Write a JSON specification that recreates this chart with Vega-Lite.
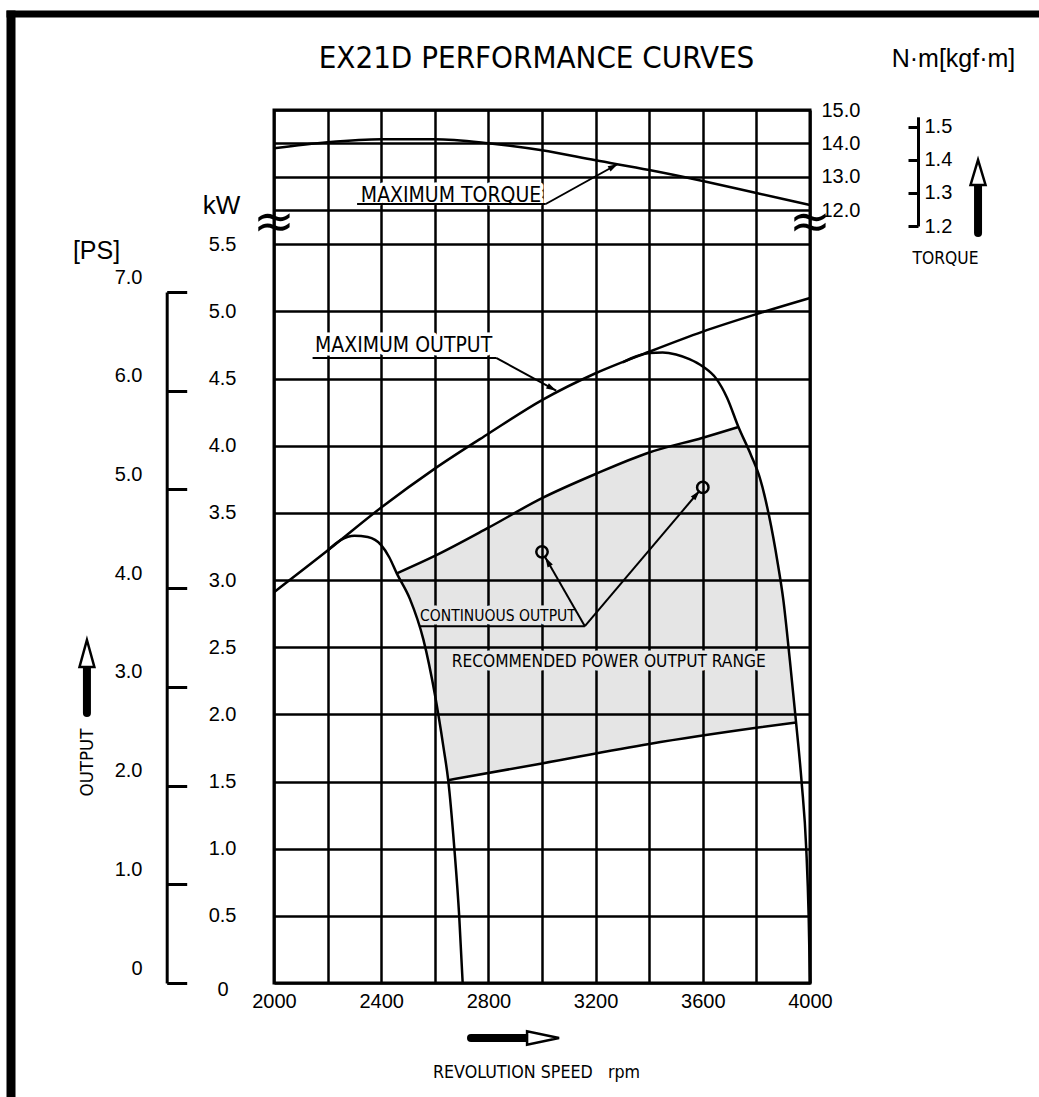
{
  "$schema": "https://vega.github.io/schema/vega-lite/v6.json",
  "width": 536,
  "height": 873,
  "autosize": "none",
  "padding": {"left": 274, "top": 110, "right": 229, "bottom": 114},
  "background": "white",
  "config": {
    "view": {"stroke": "black", "strokeWidth": 3},
    "axis": {
      "domainColor": "black", "tickColor": "black", "gridColor": "black", "gridOpacity": 1, "gridWidth": 2.5,
      "labelColor": "black", "titleColor": "black", "labelFont": "Liberation Sans", "labelFontSize": 20,
      "titleFont": "Liberation Sans", "titleFontWeight": "normal", "labelFlush": false, "labelOverlap": false,
      "labelBound": false, "domainWidth": 3, "tickWidth": 3
    }
  },
  "datasets": {
    "maxout": [
      {"rpm": 2000, "kw": 2.91}, {"rpm": 2200, "kw": 3.22}, {"rpm": 2400, "kw": 3.54}, {"rpm": 2600, "kw": 3.83},
      {"rpm": 2800, "kw": 4.09}, {"rpm": 3000, "kw": 4.34}, {"rpm": 3200, "kw": 4.54}, {"rpm": 3400, "kw": 4.70},
      {"rpm": 3600, "kw": 4.85}, {"rpm": 3800, "kw": 4.98}, {"rpm": 4000, "kw": 5.10}
    ],
    "smallbell": [
      {"rpm": 2200, "kw": 3.22}, {"rpm": 2250, "kw": 3.30}, {"rpm": 2300, "kw": 3.33}, {"rpm": 2350, "kw": 3.32},
      {"rpm": 2400, "kw": 3.26}, {"rpm": 2430, "kw": 3.17}, {"rpm": 2458, "kw": 3.05}, {"rpm": 2507, "kw": 2.86},
      {"rpm": 2557, "kw": 2.56}, {"rpm": 2601, "kw": 2.14}, {"rpm": 2632, "kw": 1.76}, {"rpm": 2650, "kw": 1.51},
      {"rpm": 2673, "kw": 1.0}, {"rpm": 2691, "kw": 0.5}, {"rpm": 2704, "kw": 0}
    ],
    "bigbell": [
      {"rpm": 3300, "kw": 4.62}, {"rpm": 3350, "kw": 4.665}, {"rpm": 3400, "kw": 4.69}, {"rpm": 3450, "kw": 4.695},
      {"rpm": 3500, "kw": 4.68}, {"rpm": 3550, "kw": 4.645}, {"rpm": 3600, "kw": 4.59}, {"rpm": 3650, "kw": 4.50},
      {"rpm": 3690, "kw": 4.36}, {"rpm": 3733, "kw": 4.14}, {"rpm": 3780, "kw": 3.93}, {"rpm": 3813, "kw": 3.76},
      {"rpm": 3847, "kw": 3.48}, {"rpm": 3880, "kw": 3.12}, {"rpm": 3900, "kw": 2.86}, {"rpm": 3925, "kw": 2.40},
      {"rpm": 3948, "kw": 1.94}, {"rpm": 3969, "kw": 1.49}, {"rpm": 3986, "kw": 1.0}, {"rpm": 3995, "kw": 0.5},
      {"rpm": 4000, "kw": 0}
    ],
    "upper": [
      {"rpm": 2458, "kw": 3.05}, {"rpm": 2600, "kw": 3.18}, {"rpm": 2800, "kw": 3.39}, {"rpm": 3000, "kw": 3.61},
      {"rpm": 3200, "kw": 3.79}, {"rpm": 3400, "kw": 3.95}, {"rpm": 3600, "kw": 4.06}, {"rpm": 3733, "kw": 4.14}
    ],
    "lower": [
      {"rpm": 2650, "kw": 1.51}, {"rpm": 3000, "kw": 1.635}, {"rpm": 3400, "kw": 1.78}, {"rpm": 3800, "kw": 1.90},
      {"rpm": 3948, "kw": 1.94}
    ],
    "region": [
      {"rpm": 2458, "kw": 3.05, "kwb": 3.05}, {"rpm": 2480, "kw": 3.07, "kwb": 2.965}, {"rpm": 2507, "kw": 3.09, "kwb": 2.86},
      {"rpm": 2530, "kw": 3.11, "kwb": 2.72}, {"rpm": 2557, "kw": 3.14, "kwb": 2.56}, {"rpm": 2580, "kw": 3.16, "kwb": 2.35},
      {"rpm": 2601, "kw": 3.18, "kwb": 2.14}, {"rpm": 2617, "kw": 3.20, "kwb": 1.95}, {"rpm": 2632, "kw": 3.21, "kwb": 1.76},
      {"rpm": 2650, "kw": 3.23, "kwb": 1.51}, {"rpm": 2800, "kw": 3.39, "kwb": 1.56}, {"rpm": 3000, "kw": 3.61, "kwb": 1.635},
      {"rpm": 3200, "kw": 3.79, "kwb": 1.71}, {"rpm": 3400, "kw": 3.95, "kwb": 1.78}, {"rpm": 3600, "kw": 4.06, "kwb": 1.84},
      {"rpm": 3733, "kw": 4.14, "kwb": 1.885}, {"rpm": 3760, "kw": 4.02, "kwb": 1.89}, {"rpm": 3780, "kw": 3.93, "kwb": 1.895},
      {"rpm": 3813, "kw": 3.76, "kwb": 1.90}, {"rpm": 3847, "kw": 3.48, "kwb": 1.91}, {"rpm": 3880, "kw": 3.12, "kwb": 1.92},
      {"rpm": 3900, "kw": 2.86, "kwb": 1.925}, {"rpm": 3925, "kw": 2.40, "kwb": 1.935}, {"rpm": 3948, "kw": 1.94, "kwb": 1.94}
    ],
    "leaders": [
      {"rpm": 2144, "kw": 4.654, "rpm2": 2829, "kw2": 4.654},
      {"rpm": 2829, "kw": 4.654, "rpm2": 3053, "kw2": 4.41},
      {"rpm": 2545, "kw": 2.657, "rpm2": 3160, "kw2": 2.657},
      {"rpm": 3160, "kw": 2.657, "rpm2": 3012, "kw2": 3.17},
      {"rpm": 3160, "kw": 2.657, "rpm2": 3588, "kw2": 3.665}
    ],
    "tips": [
      {"rpm": 3053, "kw": 4.41, "lead": "mo"},
      {"rpm": 3012, "kw": 3.17, "lead": "co1"},
      {"rpm": 3588, "kw": 3.665, "lead": "co2"}
    ],
    "circles": [{"rpm": 3000, "kw": 3.21}, {"rpm": 3600, "kw": 3.69}],
    "notes": [
      {"rpm": 2153, "kw": 4.70, "label": "MAXIMUM OUTPUT", "kind": "large"},
      {"rpm": 2545, "kw": 2.694, "label": "CONTINUOUS OUTPUT", "kind": "small"},
      {"rpm": 2663, "kw": 2.352, "label": "RECOMMENDED POWER OUTPUT RANGE", "kind": "medium"}
    ],
    "breaks": [{"rpm": 2000, "kw": 5.66}, {"rpm": 4000, "kw": 5.66}],
    "xarrow_shaft": [{"rpm": 2735, "kw": -0.41, "rpm2": 2955}],
    "xarrow_head": [{"rpm": 3004, "kw": -0.41}],
    "torque": [
      {"rpm": 2000, "nm": 13.85}, {"rpm": 2200, "nm": 14.03}, {"rpm": 2400, "nm": 14.12}, {"rpm": 2600, "nm": 14.12},
      {"rpm": 2800, "nm": 14.0}, {"rpm": 3000, "nm": 13.79}, {"rpm": 3200, "nm": 13.49}, {"rpm": 3400, "nm": 13.2},
      {"rpm": 3600, "nm": 12.87}, {"rpm": 3800, "nm": 12.51}, {"rpm": 4000, "nm": 12.15}
    ],
    "torque_note": [{"rpm": 2324, "nm": 12.245, "label": "MAXIMUM TORQUE"}],
    "torque_leaders": [
      {"rpm": 2310, "nm": 12.18, "rpm2": 3014, "nm2": 12.18},
      {"rpm": 3014, "nm": 12.18, "rpm2": 3283, "nm2": 13.38}
    ],
    "torque_tip": [{"rpm": 3283, "nm": 13.38}],
    "ps_shaft": [{"rpm": 1302, "ps": 2.736, "ps2": 3.2}],
    "ps_head": [{"rpm": 1302, "ps": 3.338}],
    "kgf_shaft": [{"rpm": 4627, "kgf": 1.179, "kgf2": 1.324}],
    "kgf_head": [{"rpm": 4627, "kgf": 1.362}]
  },
  "layer": [
    {
      "encoding": {
        "x": {
          "field": "rpm", "type": "quantitative",
          "scale": {"domain": [2000, 4000], "nice": false, "zero": false},
          "axis": {
            "values": [2000, 2200, 2400, 2600, 2800, 3000, 3200, 3400, 3600, 3800, 4000],
            "format": "d",
            "labelExpr": "datum.value % 400 === 0 ? datum.label : ''",
            "grid": true, "ticks": false, "tickSize": 0, "domain": false, "labelPadding": 8,
            "title": "REVOLUTION SPEED\u00a0\u00a0\u00a0rpm", "titleFont": "Noto Sans Condensed, DejaVu Sans Condensed, Liberation Sans", "titleFontSize": 17.7,
            "titleAngle": 0, "titleX": 262, "titleY": 94, "titleAlign": "center", "titleBaseline": "alphabetic"
          }
        },
        "y": {
          "field": "kw", "type": "quantitative",
          "scale": {"domain": [0, 6.5], "nice": false, "zero": false},
          "axis": {
            "values": [0, 0.5, 1, 1.5, 2, 2.5, 3, 3.5, 4, 4.5, 5, 5.5],
            "labelExpr": "datum.value === 0 ? '0' : format(datum.value, '.1f')",
            "grid": true, "ticks": false, "tickSize": 0, "domain": false,
            "labelPadding": {"condition": {"test": "datum.value === 0", "value": 46}, "value": 38},
            "labelOffset": {"condition": {"test": "datum.value === 0", "value": 6}, "value": 0},
            "title": "kW", "titleFontSize": 26, "titleAngle": 0, "titleX": -53, "titleY": 103,
            "titleAlign": "center", "titleBaseline": "alphabetic"
          }
        }
      },
      "layer": [
        {
          "data": {"name": "region"},
          "mark": {"type": "area", "fill": "black", "fillOpacity": 0.1, "interpolate": "linear"},
          "encoding": {"y2": {"field": "kwb"}}
        },
        {
          "data": {"name": "notes"},
          "mark": {"type": "text", "font": "Noto Sans Condensed, DejaVu Sans Condensed, Liberation Sans", "align": "left", "baseline": "alphabetic", "strokeWidth": 7, "strokeJoin": "round"},
          "encoding": {
            "text": {"field": "label"},
            "size": {"field": "kind", "type": "nominal", "scale": {"type": "ordinal", "domain": ["large", "small", "medium"], "range": [21, 15.5, 17.2]}, "legend": null},
            "stroke": {"field": "kind", "type": "nominal", "scale": {"domain": ["large", "small", "medium"], "range": ["white", "#e6e6e6", "#e6e6e6"]}, "legend": null},
            "fill": {"field": "kind", "type": "nominal", "scale": {"domain": ["large", "small", "medium"], "range": ["white", "#e6e6e6", "#e6e6e6"]}, "legend": null}
          }
        },
        {
          "data": {"name": "maxout"},
          "mark": {"type": "line", "interpolate": "monotone", "stroke": "black", "strokeWidth": 2.5}
        },
        {
          "data": {"name": "smallbell"},
          "mark": {"type": "line", "interpolate": "monotone", "stroke": "black", "strokeWidth": 2.5}
        },
        {
          "data": {"name": "bigbell"},
          "mark": {"type": "line", "interpolate": "monotone", "stroke": "black", "strokeWidth": 2.5}
        },
        {
          "data": {"name": "upper"},
          "mark": {"type": "line", "interpolate": "monotone", "stroke": "black", "strokeWidth": 2.5}
        },
        {
          "data": {"name": "lower"},
          "mark": {"type": "line", "interpolate": "monotone", "stroke": "black", "strokeWidth": 2.5}
        },
        {
          "data": {"name": "leaders"},
          "mark": {"type": "rule", "stroke": "black", "strokeWidth": 2},
          "encoding": {"x2": {"field": "rpm2"}, "y2": {"field": "kw2"}}
        },
        {
          "data": {"name": "tips"},
          "transform": [{"filter": "datum.lead === 'mo'"}],
          "mark": {"type": "point", "shape": "M0,0L-2,-0.6L-2,0.6Z", "size": 100, "angle": 28.7, "filled": true, "fill": "black", "opacity": 1}
        },
        {
          "data": {"name": "tips"},
          "transform": [{"filter": "datum.lead === 'co1'"}],
          "mark": {"type": "point", "shape": "M0,0L-2,-0.6L-2,0.6Z", "size": 100, "angle": 240, "filled": true, "fill": "black", "opacity": 1}
        },
        {
          "data": {"name": "tips"},
          "transform": [{"filter": "datum.lead === 'co2'"}],
          "mark": {"type": "point", "shape": "M0,0L-2,-0.6L-2,0.6Z", "size": 100, "angle": 310.3, "filled": true, "fill": "black", "opacity": 1}
        },
        {
          "data": {"name": "circles"},
          "mark": {"type": "point", "shape": "circle", "size": 130, "filled": false, "stroke": "black", "strokeWidth": 2.5, "opacity": 1}
        },
        {
          "data": {"name": "notes"},
          "mark": {"type": "text", "font": "Noto Sans Condensed, DejaVu Sans Condensed, Liberation Sans", "align": "left", "baseline": "alphabetic", "fill": "black"},
          "encoding": {
            "text": {"field": "label"},
            "size": {"field": "kind", "type": "nominal", "scale": {"type": "ordinal", "domain": ["large", "small", "medium"], "range": [21, 15.5, 17.2]}, "legend": null}
          }
        },
        {
          "data": {"name": "breaks"},
          "mark": {"type": "text", "text": "≈", "font": "DejaVu Sans", "fontSize": 50, "align": "center", "baseline": "middle", "fill": "black"}
        },
        {
          "data": {"name": "xarrow_shaft"},
          "mark": {"type": "rule", "stroke": "black", "strokeWidth": 8, "strokeCap": "round"},
          "encoding": {"x2": {"field": "rpm2"}}
        },
        {
          "data": {"name": "xarrow_head"},
          "mark": {"type": "point", "shape": "M1,0L-1,-0.42L-1,0.42Z", "size": 1024, "filled": true, "fill": "white", "stroke": "black", "strokeWidth": 2.5, "opacity": 1}
        }
      ]
    },
    {
      "encoding": {
        "x": {"field": "rpm", "type": "quantitative", "scale": {"domain": [2000, 4000], "nice": false, "zero": false}, "axis": null},
        "y": {
          "field": "nm", "type": "quantitative",
          "scale": {"domain": [-11.19, 15], "nice": false, "zero": false},
          "axis": {
            "orient": "right", "values": [12, 13, 14, 15], "format": ".1f",
            "grid": true, "ticks": false, "tickSize": 0, "domain": false, "labelPadding": 11,
            "title": "N·m[kgf·m]", "titleFontSize": 25, "titleAngle": 0, "titleX": 143, "titleY": -44,
            "titleAlign": "center", "titleBaseline": "alphabetic"
          }
        }
      },
      "layer": [
        {
          "data": {"name": "torque_note"},
          "mark": {"type": "text", "font": "Noto Sans Condensed, DejaVu Sans Condensed, Liberation Sans", "fontSize": 21, "align": "left", "baseline": "alphabetic", "fill": "white", "stroke": "white", "strokeWidth": 7, "strokeJoin": "round"},
          "encoding": {"text": {"field": "label"}}
        },
        {
          "data": {"name": "torque"},
          "mark": {"type": "line", "interpolate": "monotone", "stroke": "black", "strokeWidth": 2.5}
        },
        {
          "data": {"name": "torque_leaders"},
          "mark": {"type": "rule", "stroke": "black", "strokeWidth": 2},
          "encoding": {"x2": {"field": "rpm2"}, "y2": {"field": "nm2"}}
        },
        {
          "data": {"name": "torque_tip"},
          "mark": {"type": "point", "shape": "M0,0L-2,-0.6L-2,0.6Z", "size": 100, "angle": 331, "filled": true, "fill": "black", "opacity": 1}
        },
        {
          "data": {"name": "torque_note"},
          "mark": {"type": "text", "font": "Noto Sans Condensed, DejaVu Sans Condensed, Liberation Sans", "fontSize": 21, "align": "left", "baseline": "alphabetic", "fill": "black"},
          "encoding": {"text": {"field": "label"}}
        }
      ]
    },
    {
      "encoding": {
        "x": {"field": "rpm", "type": "quantitative", "scale": {"domain": [2000, 4000], "nice": false, "zero": false}, "axis": null},
        "y": {
          "field": "ps", "type": "quantitative",
          "scale": {"domain": [0, 7], "range": [873, 182], "nice": false, "zero": false},
          "axis": {
            "orient": "left", "offset": 107.3, "values": [0, 1, 2, 3, 4, 5, 6, 7],
            "labelExpr": "datum.value === 0 ? '0' : format(datum.value, '.1f')",
            "grid": false, "ticks": true, "tickSize": -20, "domain": true, "labelPadding": 44.7, "labelOffset": -15,
            "title": "[PS]", "titleFontSize": 25, "titleAngle": 0, "titleX": -70.7, "titleY": 148,
            "titleAlign": "center", "titleBaseline": "alphabetic"
          }
        }
      },
      "layer": [
        {
          "data": {"name": "ps_shaft"},
          "mark": {"type": "rule", "stroke": "black", "strokeWidth": 8, "strokeCap": "round"},
          "encoding": {"y2": {"field": "ps2"}}
        },
        {
          "data": {"name": "ps_head"},
          "mark": {"type": "point", "shape": "M0,-1L0.55,1L-0.55,1Z", "size": 729, "filled": true, "fill": "white", "stroke": "black", "strokeWidth": 2.5, "opacity": 1}
        }
      ]
    },
    {
      "encoding": {
        "x": {"field": "rpm", "type": "quantitative", "scale": {"domain": [2000, 4000], "nice": false, "zero": false}, "axis": null},
        "y": {
          "field": "kgf", "type": "quantitative",
          "scale": {"domain": [1.2, 1.53], "range": [116, 6.8], "nice": false, "zero": false},
          "axis": {
            "orient": "right", "offset": 108, "values": [1.2, 1.3, 1.4, 1.5], "format": ".1f",
            "grid": false, "ticks": true, "tickSize": -10, "domain": true, "labelPadding": 16,
            "title": "TORQUE", "titleFont": "Noto Sans Condensed, DejaVu Sans Condensed, Liberation Sans", "titleFontSize": 17.3, "titleAngle": 0,
            "titleX": 27, "titleY": 153, "titleAlign": "center", "titleBaseline": "alphabetic"
          }
        }
      },
      "layer": [
        {
          "data": {"name": "kgf_shaft"},
          "mark": {"type": "rule", "stroke": "black", "strokeWidth": 8, "strokeCap": "round"},
          "encoding": {"y2": {"field": "kgf2"}}
        },
        {
          "data": {"name": "kgf_head"},
          "mark": {"type": "point", "shape": "M0,-1L0.6,1L-0.6,1Z", "size": 625, "filled": true, "fill": "white", "stroke": "black", "strokeWidth": 2.5, "opacity": 1}
        }
      ]
    },
    {
      "data": {"values": [{"fx": 0, "fy": 0}]},
      "mark": {"type": "point", "opacity": 0},
      "encoding": {
        "x": {
          "field": "fx", "type": "quantitative",
          "scale": {"domain": [0, 1], "range": [-268, 765], "nice": false, "zero": false},
          "axis": {
            "orient": "top", "offset": 96.5, "domainWidth": 7, "ticks": false, "labels": false, "grid": false,
            "title": "EX21D PERFORMANCE CURVES", "titleFont": "Noto Sans Condensed, DejaVu Sans Condensed, Liberation Sans", "titleFontSize": 31,
            "titleAngle": 0, "titleX": 262, "titleY": 54, "titleAlign": "center", "titleBaseline": "alphabetic"
          }
        },
        "y": {
          "field": "fy", "type": "quantitative",
          "scale": {"domain": [0, 1], "range": [-100, 987], "nice": false, "zero": false},
          "axis": {
            "orient": "left", "offset": 263.5, "domainWidth": 9, "ticks": false, "labels": false, "grid": false,
            "title": "OUTPUT", "titleFont": "Noto Sans Condensed, DejaVu Sans Condensed, Liberation Sans", "titleFontSize": 18.5,
            "titleAngle": 270, "titleX": 75.5, "titleY": 652, "titleAlign": "center", "titleBaseline": "middle"
          }
        }
      }
    }
  ],
  "resolve": {"scale": {"x": "independent", "y": "independent"}}
}
